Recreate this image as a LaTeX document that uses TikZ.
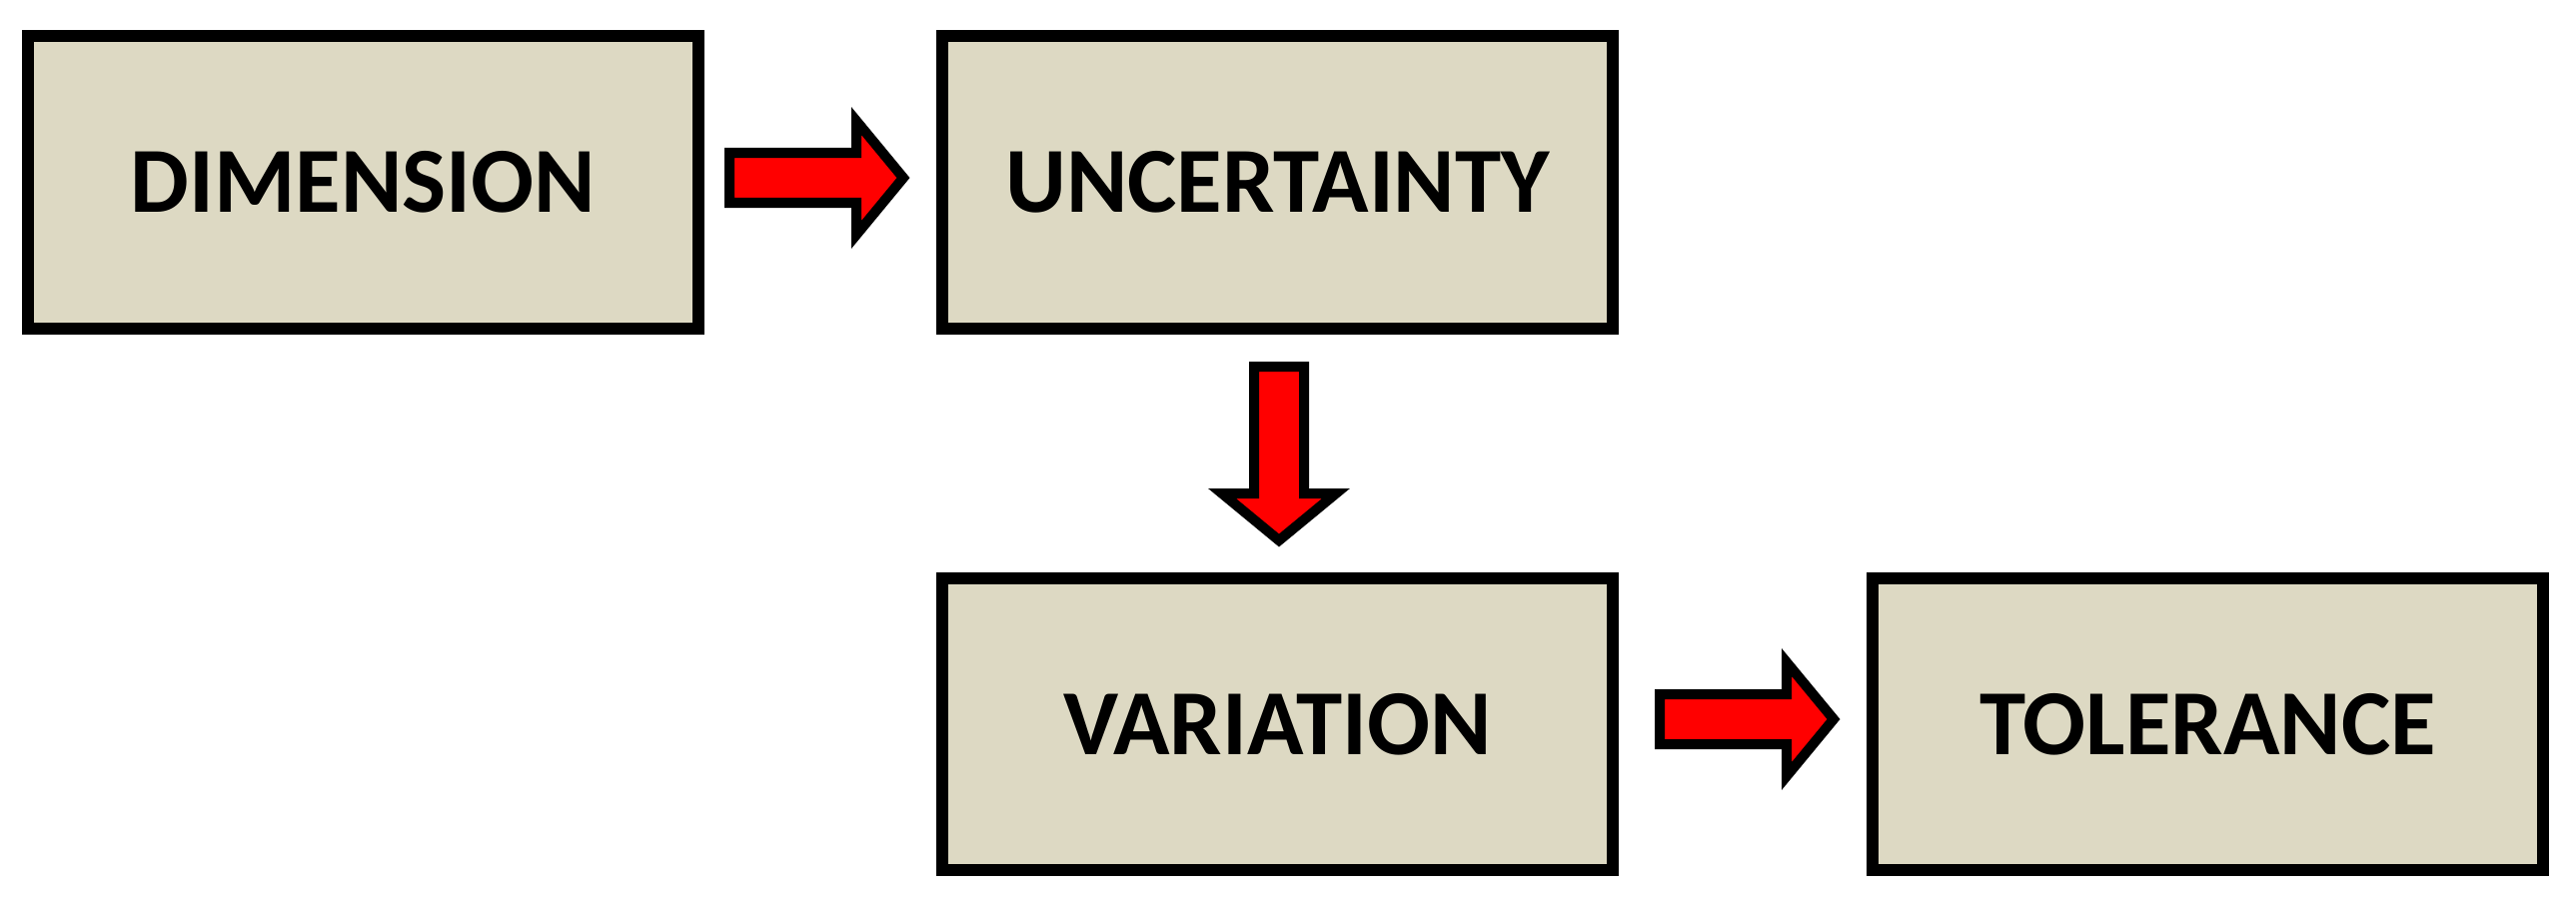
\documentclass[tikz,border=0pt]{standalone}
\usepackage{fontspec}
\setmainfont{Carlito}
\begin{document}
\begin{tikzpicture}[x=0.01cm,y=-0.01cm,
  box/.style={draw=black,line width=0.12cm,fill=boxfill,minimum width=6.71cm,minimum height=2.92cm,
    inner sep=0pt,font=\fontsize{26.5}{30}\selectfont\bfseries,text=black},
  blockarrow/.pic={\filldraw[fill=red,draw=black,line width=0.1cm,line join=miter,miter limit=10]
    (0,-25) -- (127,-25) -- (127,-57) -- (174,0) -- (127,57) -- (127,25) -- (0,25) -- cycle;}]
\definecolor{boxfill}{RGB}{221,217,195}
\useasboundingbox (0,0) rectangle (2578,909);
\node[box] (dim) at (363.5,182.5) {DIMENSION};
\node[box] (unc) at (1278.5,182.5) {UNCERTAINTY};
\node[box] (var) at (1278.5,725) {VARIATION};
\node[box] (tol) at (2209.5,725) {TOLERANCE};
\coordinate (a1) at (730,178);
\coordinate (a2) at (1280,367);
\coordinate (a3) at (1661,720);
\pic at (a1) {blockarrow};
\pic[rotate=-90] at (a2) {blockarrow};
\pic at (a3) {blockarrow};
\end{tikzpicture}
\end{document}
